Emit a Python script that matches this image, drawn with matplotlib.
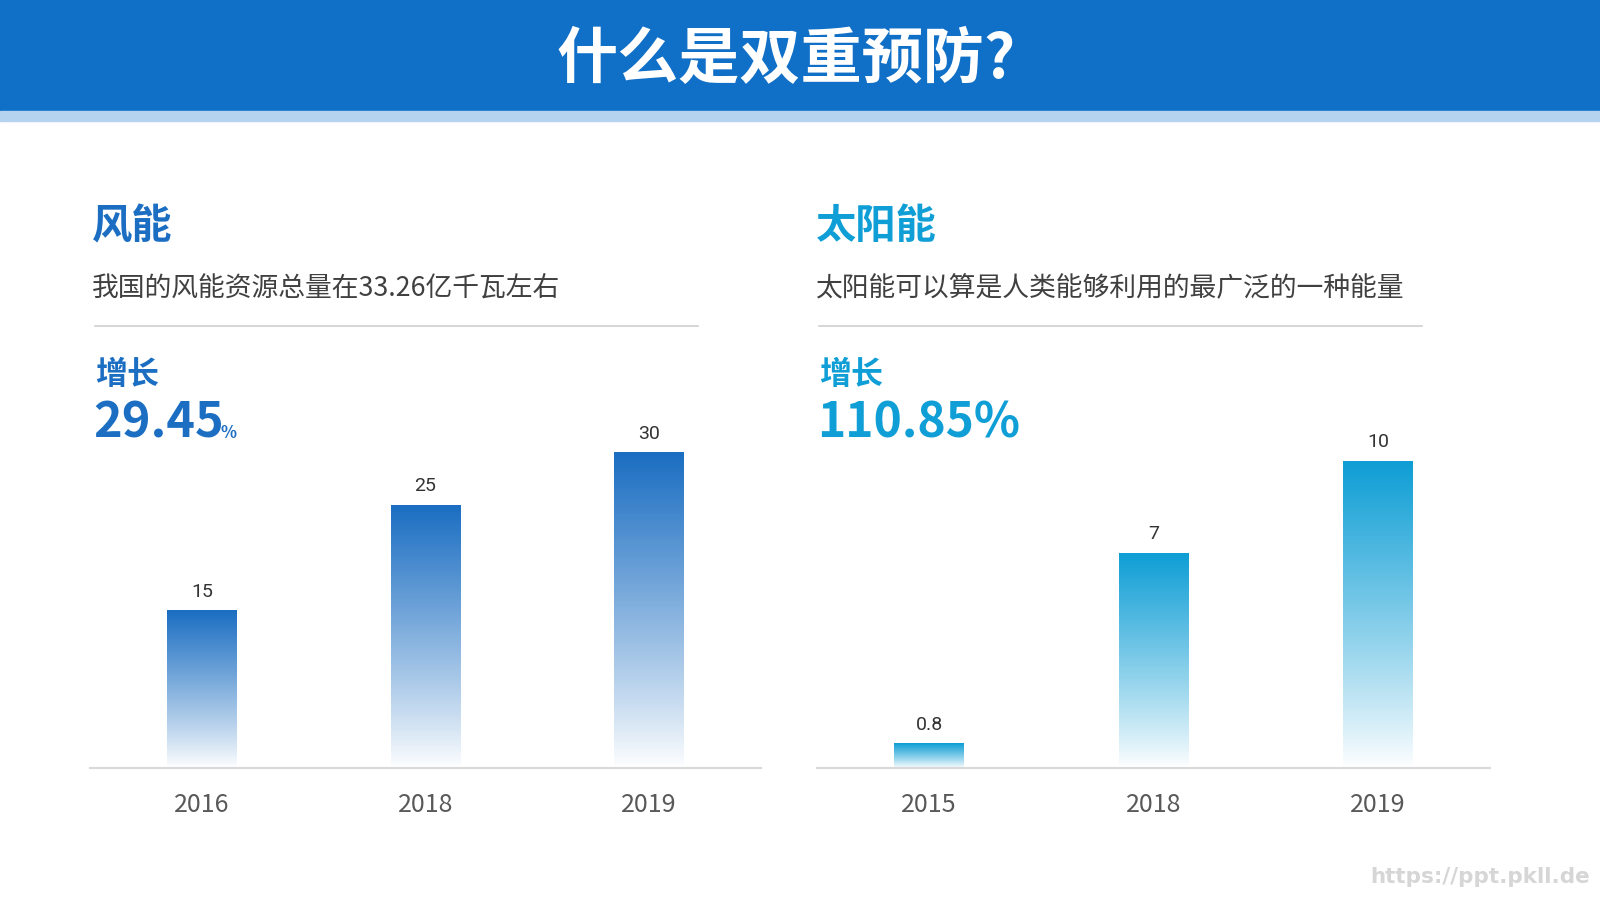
import matplotlib
matplotlib.use("Agg")
import matplotlib.pyplot as plt
import numpy as np
from matplotlib.colors import LinearSegmentedColormap
from matplotlib.patches import Rectangle

plt.rcParams['font.family'] = ['Noto Sans CJK SC', 'DejaVu Sans']

# data
wind_years = ['2016', '2018', '2019']
wind_values = [15, 25, 30]
solar_years = ['2015', '2018', '2019']
solar_values = [0.8, 7, 10]

title = '什么是双重预防?'
panels = [
    dict(name='风能', desc='我国的风能资源总量在33.26亿千瓦左右', growth='29.45', pct_small=True,
         color='#1B6EC2', years=wind_years, values=wind_values, ymax=33.1, x=95),
    dict(name='太阳能', desc='太阳能可以算是人类能够利用的最广泛的一种能量', growth='110.85', pct_small=False,
         color='#0F9ED5', years=solar_years, values=solar_values, ymax=11.34, x=819),
]

W, H = 1600, 900
fig = plt.figure(figsize=(16, 9), dpi=100)
fig.patch.set_facecolor('white')


def fx(px):
    return px / W


def fy(py):
    return 1 - py / H


# header band
fig.patches.append(Rectangle((0, fy(111)), 1, 111 / H, transform=fig.transFigure,
                             color='#106FC6', zorder=0))
fig.patches.append(Rectangle((0, fy(121)), 1, 10 / H, transform=fig.transFigure,
                             color='#B5D3EF', zorder=0))
fig.text(fx(786), fy(60), title, color='white', fontsize=44, fontweight='bold',
         ha='center', va='center')

axes_left = [90, 817]
axes_width = [671, 673]

for p, axl, axw in zip(panels, axes_left, axes_width):
    x0 = p['x']
    fig.text(fx(x0 - 3), fy(227), p['name'], color=p['color'], fontsize=29,
             fontweight='bold', ha='left', va='center')
    fig.text(fx(x0 - 3), fy(289), p['desc'], color='#404040', fontsize=19.3,
             ha='left', va='center')
    fig.add_artist(plt.Line2D([fx(x0), fx(x0 + 603)], [fy(326), fy(326)],
                              transform=fig.transFigure, color='#CFCFCF', lw=1.2))
    fig.text(fx(x0), fy(375), '增长', color=p['color'], fontsize=23,
             fontweight='bold', ha='left', va='center')
    if p['pct_small']:
        t = fig.text(fx(x0 - 2), fy(438), p['growth'], color=p['color'], fontsize=35,
                     fontweight='bold', ha='left', va='baseline')
        fig.canvas.draw()
        bb = t.get_window_extent()
        fig.text(bb.x1 / W - 0.002, fy(438), '%', color=p['color'], fontsize=12,
                 fontweight='bold', ha='left', va='baseline')
    else:
        fig.text(fx(x0 - 2), fy(438), p['growth'] + '%', color=p['color'], fontsize=34.5,
                 fontweight='bold', ha='left', va='baseline')

    # bar chart
    ax = fig.add_axes([fx(axl), fy(768), fx(axw), 348 / H])
    ax.set_facecolor('none')
    xs = np.arange(len(p['values']))
    bars = ax.bar(xs, p['values'], width=0.31, color='none', edgecolor='none')
    cmap = LinearSegmentedColormap.from_list('g', ['#FFFFFF', p['color']])
    grad = np.linspace(0, 1, 256).reshape(-1, 1)
    for b, v in zip(bars, p['values']):
        bx, bw = b.get_x(), b.get_width()
        ax.imshow(grad ** 0.9, extent=[bx, bx + bw, 0, v], cmap=cmap, aspect='auto',
                  origin='lower', zorder=2, vmin=0, vmax=1)
        ax.annotate(f'{v:g}', (b.get_x() + bw / 2, v), xytext=(0, 7),
                    textcoords='offset points', ha='center', va='bottom',
                    fontsize=14, color='#333333', family=['Roboto', 'DejaVu Sans'])
    ax.set_xlim(-0.5, len(xs) - 0.5)
    ax.set_ylim(0, p['ymax'])
    ax.set_xticks(xs)
    ax.set_xticklabels(p['years'], fontsize=18, color='#595959')
    ax.tick_params(axis='x', length=0, pad=17)
    ax.set_yticks([])
    for s in ['top', 'right', 'left']:
        ax.spines[s].set_visible(False)
    ax.spines['bottom'].set_color('#D9D9D9')
    ax.spines['bottom'].set_linewidth(1.5)

fig.text(fx(1590), fy(877), 'https://ppt.pkll.de', color='#D6D6D6', fontsize=15.5,
         fontweight='bold', ha='right', va='center', family=['DejaVu Sans'])

fig.savefig('out.png', dpi=100, facecolor='white')
